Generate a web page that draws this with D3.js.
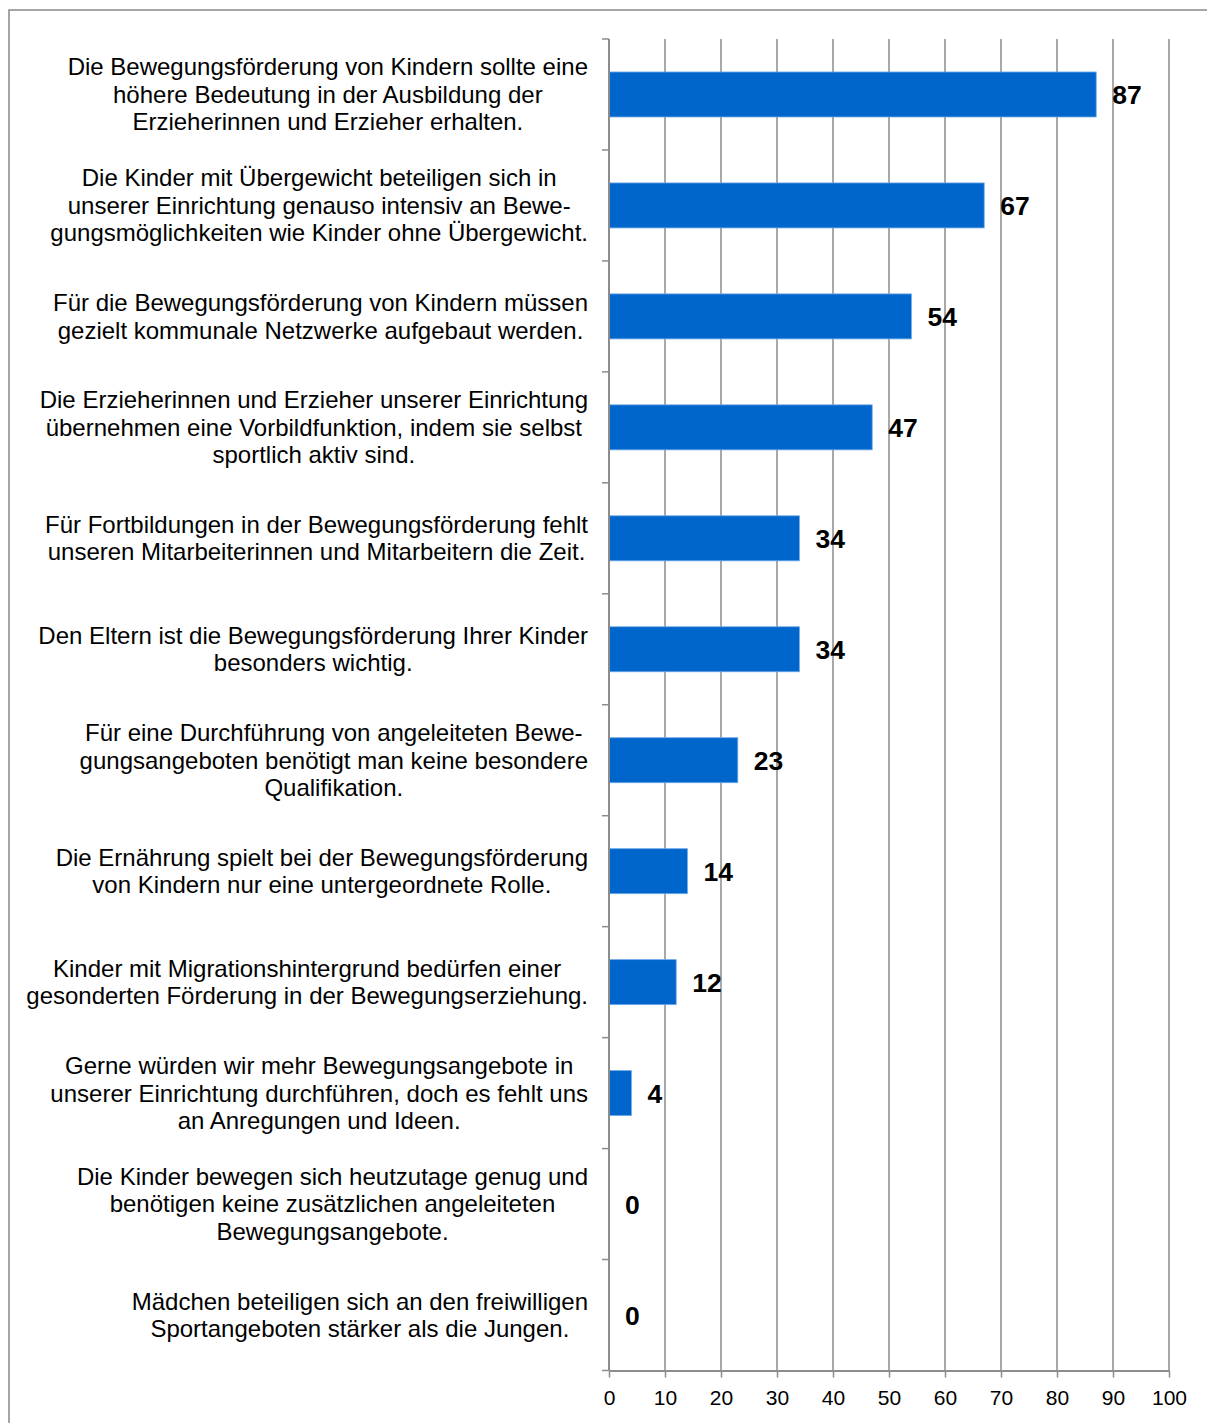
<!DOCTYPE html>
<html>
<head>
<meta charset="utf-8">
<script src="https://cdn.jsdelivr.net/npm/d3@7"></script>
<style>
  html, body { margin: 0; padding: 0; background: #fff; }
  svg { display: block; }
  text { font-family: "Liberation Sans", Arial, sans-serif; }
</style>
</head>
<body>
<script>
// Statements (each entry is a list of pre-wrapped lines), top to bottom
const statements = [
  ["Die Bewegungsförderung von Kindern sollte eine", "höhere Bedeutung in der Ausbildung der", "Erzieherinnen und Erzieher erhalten."],
  ["Die Kinder mit Übergewicht beteiligen sich in", "unserer Einrichtung genauso intensiv an Bewe-", "gungsmöglichkeiten wie Kinder ohne Übergewicht."],
  ["Für die Bewegungsförderung von Kindern müssen", "gezielt kommunale Netzwerke aufgebaut werden."],
  ["Die Erzieherinnen und Erzieher unserer Einrichtung", "übernehmen eine Vorbildfunktion, indem sie selbst", "sportlich aktiv sind."],
  ["Für Fortbildungen in der Bewegungsförderung fehlt", "unseren Mitarbeiterinnen und Mitarbeitern die Zeit."],
  ["Den Eltern ist die Bewegungsförderung Ihrer Kinder", "besonders wichtig."],
  ["Für eine Durchführung von angeleiteten Bewe-", "gungsangeboten benötigt man keine besondere", "Qualifikation."],
  ["Die Ernährung spielt bei der Bewegungsförderung", "von Kindern nur eine untergeordnete Rolle."],
  ["Kinder mit Migrationshintergrund bedürfen einer", "gesonderten Förderung in der Bewegungserziehung."],
  ["Gerne würden wir mehr Bewegungsangebote in", "unserer Einrichtung durchführen, doch es fehlt uns", "an Anregungen und Ideen."],
  ["Die Kinder bewegen sich heutzutage genug und", "benötigen keine zusätzlichen angeleiteten", "Bewegungsangebote."],
  ["Mädchen beteiligen sich an den freiwilligen", "Sportangeboten stärker als die Jungen."]
];

// Agreement in percent, one value per statement
const values = [87, 67, 54, 47, 34, 34, 23, 14, 12, 4, 0, 0];

// Tick values of the percentage axis
const xTicks = [0, 10, 20, 30, 40, 50, 60, 70, 80, 90, 100];

const W = 1207, H = 1423;
const plot = { left: 609, right: 1169, top: 39, bottom: 1370.5 };
const gridColor = "#8c8c8c";
const barColor = "#0066cc";
const fontFamily = "'Liberation Sans', Arial, sans-serif";

const svg = d3.select("body").append("svg")
  .attr("width", W).attr("height", H);

// Outer frame (runs off the right and bottom edges)
svg.append("rect")
  .attr("x", 9).attr("y", 10)
  .attr("width", W + 20).attr("height", H + 20)
  .attr("fill", "#fff")
  .attr("stroke", "#888").attr("stroke-width", 1.5);

const ids = statements.map((d, i) => i);

const x = d3.scaleLinear().domain([0, 100]).range([plot.left, plot.right]);
const y = d3.scaleBand().domain(ids).range([plot.top, plot.bottom]).paddingInner(0).paddingOuter(0);
const barH = 45;

// Vertical gridlines
svg.append("g")
  .selectAll("line")
  .data(xTicks.filter(t => t > 0))
  .join("line")
  .attr("x1", d => x(d)).attr("x2", d => x(d))
  .attr("y1", plot.top).attr("y2", plot.bottom)
  .attr("stroke", gridColor).attr("stroke-width", 1.5);

// Bars
svg.append("g")
  .selectAll("rect")
  .data(values)
  .join("rect")
  .attr("x", x(0))
  .attr("y", (d, i) => y(i) + y.bandwidth() / 2 - barH / 2)
  .attr("width", d => x(d) - x(0))
  .attr("height", barH)
  .attr("fill", barColor)
  .attr("stroke", "#6fa8e8").attr("stroke-width", d => d > 0 ? 0.8 : 0);

// Category axis on the left
const yAxis = svg.append("g")
  .attr("transform", `translate(${plot.left},0)`);
yAxis.append("line")
  .attr("x1", 0).attr("x2", 0)
  .attr("y1", plot.top).attr("y2", plot.bottom)
  .attr("stroke", gridColor).attr("stroke-width", 2);
const bounds = ids.map(i => y(i)).concat([plot.bottom]);
yAxis.selectAll("line.tick")
  .data(bounds)
  .join("line")
  .attr("class", "tick")
  .attr("x1", -7).attr("x2", 0)
  .attr("y1", d => d).attr("y2", d => d)
  .attr("stroke", gridColor).attr("stroke-width", 1.5);

// Percentage axis at the bottom
const xAxis = d3.axisBottom(x).tickValues(xTicks).tickSize(7).tickSizeOuter(0).tickPadding(13);
const gx = svg.append("g")
  .attr("transform", `translate(0,${plot.bottom})`)
  .call(xAxis);
gx.select(".domain").attr("stroke", gridColor).attr("stroke-width", 2);
gx.selectAll(".tick line").attr("stroke", gridColor).attr("stroke-width", 1.5);
gx.selectAll(".tick text")
  .attr("fill", "#000")
  .style("font-size", "21px")
  .style("font-family", fontFamily);

// Statement labels: centered lines within a block that ends left of the axis
const labelRight = 588;
const lineH = 27.5;
const labels = svg.append("g");
statements.forEach((lines, i) => {
  const cy = y(i) + y.bandwidth() / 2;
  const t = labels.append("text")
    .attr("text-anchor", "middle")
    .attr("fill", "#000")
    .style("font-family", fontFamily)
    .style("font-size", "24px");
  const tspans = lines.map((ln, k) => t.append("tspan")
    .attr("x", 0)
    .attr("y", cy + (k - (lines.length - 1) / 2) * lineH)
    .attr("dy", "0.35em")
    .text(ln));
  const maxW = d3.max(tspans, s => s.node().getComputedTextLength());
  tspans.forEach(s => s.attr("x", labelRight - maxW / 2));
});

// Value labels next to each bar
svg.append("g")
  .selectAll("text")
  .data(values)
  .join("text")
  .attr("x", d => x(d) + 16)
  .attr("y", (d, i) => y(i) + y.bandwidth() / 2)
  .attr("dy", "0.36em")
  .attr("fill", "#000")
  .style("font-family", fontFamily)
  .style("font-size", "26.5px")
  .style("font-weight", "bold")
  .text(d => d);
</script>
</body>
</html>
